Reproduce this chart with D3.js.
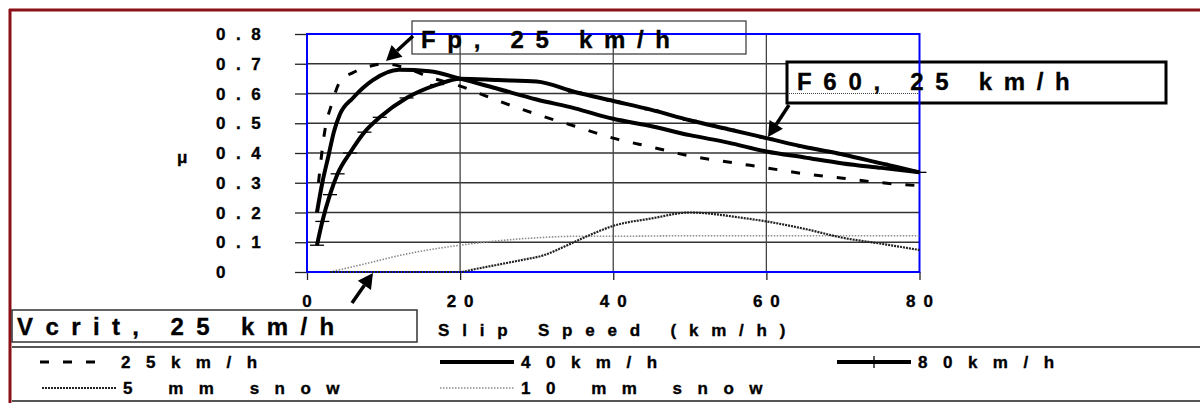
<!DOCTYPE html>
<html><head><meta charset="utf-8">
<script src="https://cdn.jsdelivr.net/npm/d3@7"></script>
<style>
html,body{margin:0;padding:0;background:#fff;}
svg text{font-family:"Liberation Sans",Arial,sans-serif;font-weight:bold;fill:#000;stroke:#000;stroke-width:0.35px;}
</style></head>
<body><svg id="c" width="1200" height="403"></svg>
<script>
// ---- data ----
const yTicks = [0, 0.1, 0.2, 0.3, 0.4, 0.5, 0.6, 0.7, 0.8];
const xTicks = [0, 20, 40, 60, 80];
const seriesNames = ["25km/h", "40km/h", "80km/h", "5 mm snow", "10 mm snow"];
const s25 = [[1.5,0.30],[2.3,0.47],[3.3,0.57],[4.3,0.64],[6,0.67],[8,0.69],[10,0.70],[13,0.685],[16,0.655],[20,0.625],[25,0.575],[30,0.53],[35,0.49],[40,0.45],[45,0.42],[50,0.39],[55,0.37],[60,0.35],[65,0.33],[70,0.315],[75,0.30],[80,0.29]];
const s40 = [[1.3,0.20],[2,0.30],[2.8,0.39],[3.5,0.47],[4.3,0.53],[6,0.585],[8.6,0.645],[12,0.68],[16,0.675],[20,0.65],[25,0.615],[30,0.58],[35,0.55],[40,0.515],[45,0.49],[50,0.46],[55,0.435],[60,0.405],[65,0.385],[70,0.365],[75,0.35],[80,0.335]];
const s80 = [[1.3,0.09],[2,0.17],[3,0.26],[4,0.33],[5.6,0.40],[7.5,0.47],[9.5,0.52],[13,0.585],[17,0.63],[20,0.65],[25,0.645],[30,0.64],[35,0.605],[40,0.575],[45,0.545],[50,0.51],[55,0.48],[60,0.45],[65,0.42],[70,0.395],[75,0.365],[80,0.335]];
const snow5 = [[3,0],[10,0],[20,0],[22,0.01],[25,0.025],[28,0.04],[31,0.057],[34,0.09],[37,0.125],[40,0.155],[45,0.18],[50,0.20],[53,0.195],[56,0.185],[60,0.17],[65,0.145],[70,0.115],[75,0.095],[80,0.074]];
const snow10 = [[3,0],[8,0.03],[12,0.055],[16,0.075],[20,0.09],[25,0.105],[30,0.115],[35,0.12],[40,0.12],[50,0.122],[60,0.122],[70,0.122],[80,0.122]];
const callouts = ["Fp, 25 km/h", "F60, 25 km/h", "Vcrit, 25 km/h"];

const svg = d3.select("#c");
const X0 = 307, X1 = 919.5, Y0 = 272, Y1 = 34;
const x = d3.scaleLinear().domain([0, 80]).range([X0, X1]);
const y = d3.scaleLinear().domain([0, 0.8]).range([Y0, Y1]);

// outer frame
svg.append("line").attr("x1",10).attr("x2",10).attr("y1",9).attr("y2",403).attr("stroke","#8b1016").attr("stroke-width",3);
svg.append("line").attr("x1",9).attr("x2",1200).attr("y1",10).attr("y2",10).attr("stroke","#8b1016").attr("stroke-width",3);

// Fp callout box (under grid)
svg.append("rect").attr("x",412).attr("y",21).attr("width",334).attr("height",33).attr("fill","#fff").attr("stroke","#333").attr("stroke-width",1.2);

// grid
const g = svg.append("g");
g.selectAll(".hg").data(yTicks.filter(v=>v>0 && v<0.8)).join("line")
  .attr("x1",X0).attr("x2",X1).attr("y1",d=>y(d)).attr("y2",d=>y(d)).attr("stroke","#333").attr("stroke-width",1.3);
g.selectAll(".vg").data(xTicks.filter(v=>v>0 && v<80)).join("line")
  .attr("x1",d=>x(d)).attr("x2",d=>x(d)).attr("y1",Y1).attr("y2",Y0).attr("stroke","#444").attr("stroke-width",1.3);

// axes ticks
const yAxis = d3.axisLeft(y).tickValues(yTicks).tickSize(12).tickFormat("");
const ya = svg.append("g").attr("transform",`translate(${X0},0)`).call(yAxis);
ya.select(".domain").remove();
ya.selectAll("line").attr("stroke","#222").attr("stroke-width",1.3);
const xAxis = d3.axisBottom(x).tickValues(xTicks).tickSize(8).tickFormat("");
const xa = svg.append("g").attr("transform",`translate(0,${Y0})`).call(xAxis);
xa.select(".domain").remove();
xa.selectAll("line").attr("stroke","#222").attr("stroke-width",1.3);

// tick labels
svg.selectAll(".yl").data(yTicks).join("text")
  .attr("x",216).attr("y",d=>y(d)+6).attr("font-size",17).attr("letter-spacing",10.5)
  .text(d=>d===0?"0":d3.format(".1f")(d));
svg.selectAll(".xl").data(xTicks).join("text")
  .attr("x",d=>x(d)+4).attr("y",307).attr("font-size",17).attr("letter-spacing",8).attr("text-anchor","middle")
  .text(d=>d);
svg.append("text").attr("x",177).attr("y",163).attr("font-size",17).text("μ");
svg.append("text").attr("x",438).attr("y",336).attr("font-size",17).attr("letter-spacing",12.8).text("Slip Speed (km/h)");

// F60 box (white, over grid)
svg.append("rect").attr("x",787).attr("y",62).attr("width",379).attr("height",41).attr("fill","#fff").attr("stroke","#000").attr("stroke-width",3);
svg.append("line").attr("x1",789).attr("x2",X1).attr("y1",y(0.6)).attr("y2",y(0.6)).attr("stroke","#444").attr("stroke-width",1).attr("stroke-dasharray","1,1");

// plot border (blue)
svg.append("rect").attr("x",X0).attr("y",Y1).attr("width",X1-X0).attr("height",Y0-Y1).attr("fill","none").attr("stroke","#0000ff").attr("stroke-width",2);

// curves
const line = d3.line().x(d=>x(d[0])).y(d=>y(d[1])).curve(d3.curveMonotoneX);
svg.append("path").datum(snow10).attr("d",line).attr("fill","none").attr("stroke","#8a8a8a").attr("stroke-width",1.6).attr("stroke-dasharray","1.5,1.5");
svg.append("path").datum(snow5).attr("d",line).attr("fill","none").attr("stroke","#222").attr("stroke-width",2.2).attr("stroke-dasharray","2,1");
svg.append("path").datum(s25).attr("d",line).attr("fill","none").attr("stroke","#000").attr("stroke-width",3).attr("stroke-dasharray","9,14");
svg.append("path").datum(s40).attr("d",line).attr("fill","none").attr("stroke","#000").attr("stroke-width",4);
svg.append("path").datum(s80).attr("d",line).attr("fill","none").attr("stroke","#000").attr("stroke-width",4);
svg.selectAll(".tk").data(s80).join("line")
  .attr("x1",d=>x(d[0])-7).attr("x2",d=>x(d[0])+7).attr("y1",d=>y(d[1])).attr("y2",d=>y(d[1]))
  .attr("stroke","#000").attr("stroke-width",1.3);

// callout texts
svg.append("text").attr("x",421).attr("y",48).attr("font-size",24).attr("letter-spacing",11.7).text(callouts[0]);
svg.append("text").attr("x",797).attr("y",90).attr("font-size",24).attr("letter-spacing",11.7).text(callouts[1]);
svg.append("rect").attr("x",12).attr("y",310).attr("width",405).attr("height",32).attr("fill","none").attr("stroke","#333").attr("stroke-width",1.5);
svg.append("text").attr("x",17).attr("y",335).attr("font-size",24).attr("letter-spacing",12.4).text(callouts[2]);

// arrows
function arrow(x1,y1,x2,y2){
  const a = Math.atan2(y2-y1,x2-x1), L=15, W=8;
  const bx = x2 - L*Math.cos(a), by = y2 - L*Math.sin(a);
  svg.append("line").attr("x1",x1).attr("y1",y1).attr("x2",bx).attr("y2",by).attr("stroke","#000").attr("stroke-width",3.5);
  const p = [[x2,y2],[bx + W*Math.sin(a), by - W*Math.cos(a)],[bx - W*Math.sin(a), by + W*Math.cos(a)]];
  svg.append("path").attr("d","M"+p.map(q=>q.join(",")).join("L")+"Z").attr("fill","#000");
}
arrow(413,36,386,61);
arrow(789,105,768,137);
arrow(352,303,373,273);

// legend
svg.append("line").attr("x1",12).attr("x2",1200).attr("y1",347).attr("y2",347).attr("stroke","#555").attr("stroke-width",2);
svg.append("line").attr("x1",12).attr("x2",1200).attr("y1",401).attr("y2",401).attr("stroke","#555").attr("stroke-width",2);
const legendItems = [
  {name:seriesNames[0], x:40, y:362, len:56, stroke:"#000", w:3, dash:"9,14"},
  {name:seriesNames[1], x:440, y:362, len:74, stroke:"#000", w:4, dash:null},
  {name:seriesNames[2], x:837, y:362, len:74, stroke:"#000", w:4, dash:null, tick:true},
  {name:seriesNames[3], x:42, y:388, len:74, stroke:"#222", w:2.2, dash:"2,1"},
  {name:seriesNames[4], x:440, y:388, len:74, stroke:"#8a8a8a", w:1.6, dash:"1.5,1.5"}
];
const lg = svg.selectAll(".lg").data(legendItems).join("g");
lg.append("line").attr("x1",d=>d.x).attr("x2",d=>d.x+d.len).attr("y1",d=>d.y).attr("y2",d=>d.y)
  .attr("stroke",d=>d.stroke).attr("stroke-width",d=>d.w).attr("stroke-dasharray",d=>d.dash);
lg.filter(d=>d.tick).append("line").attr("x1",d=>d.x+37).attr("x2",d=>d.x+37).attr("y1",d=>d.y-6).attr("y2",d=>d.y+6).attr("stroke","#000").attr("stroke-width",1.3);
lg.append("text").attr("x",d=>d.x+81).attr("y",d=>d.y+6).attr("font-size",17).attr("letter-spacing",15.5).text(d=>d.name);
</script></body></html>
